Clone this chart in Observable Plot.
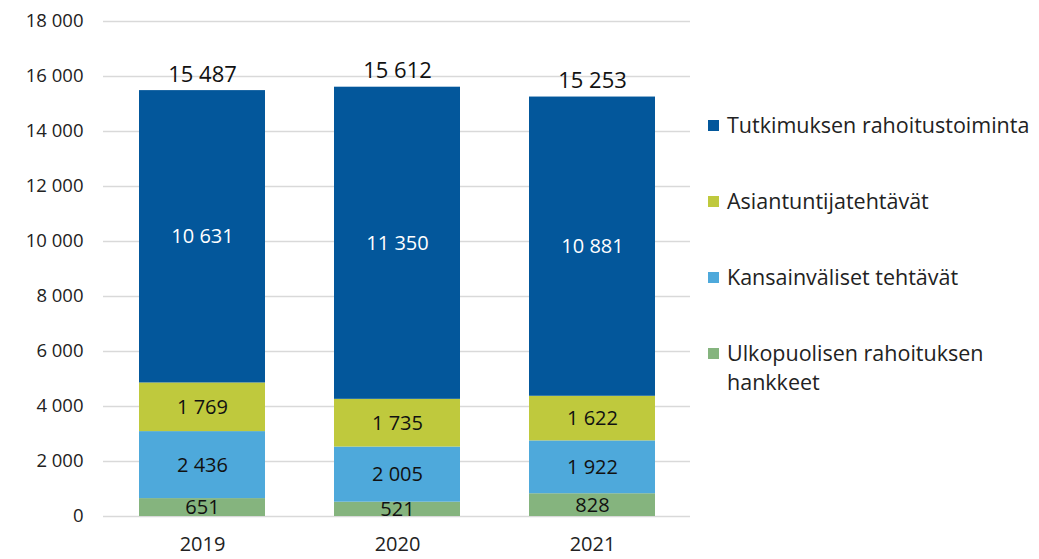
<!DOCTYPE html>
<html><head><meta charset="utf-8">
<script src="https://cdn.jsdelivr.net/npm/d3@7"></script>
<script src="https://cdn.jsdelivr.net/npm/@observablehq/plot@0.6"></script>
<style>
html,body{margin:0;padding:0;background:#fff;}
#wrap{position:relative;width:1039px;height:559px;font-family:"Open Sans",sans-serif;overflow:hidden;}
#legend{position:absolute;left:708px;top:0;width:331px;}
.item{position:absolute;left:0;display:flex;align-items:flex-start;font-size:21.5px;color:#222;line-height:29px;width:340px;}
.sw{width:11px;height:11px;margin-top:10px;margin-right:8px;flex:none;}
</style></head>
<body><div id="wrap"><div id="legend"></div></div>
<script>
const years = ["2019", "2020", "2021"];
const series = ["Ulkopuolisen rahoituksen hankkeet", "Kansainväliset tehtävät", "Asiantuntijatehtävät", "Tutkimuksen rahoitustoiminta"];
const colors = ["#85b47e", "#4ea9db", "#bfc93d", "#03579b"];
const ulkopuolisen = [651, 521, 828];
const kansainvaliset = [2436, 2005, 1922];
const asiantuntija = [1769, 1735, 1622];
const tutkimuksen = [10631, 11350, 10881];
const totalLabels = [15487, 15612, 15253];
const yTicks = [0, 2000, 4000, 6000, 8000, 10000, 12000, 14000, 16000, 18000];

const seriesValues = [ulkopuolisen, kansainvaliset, asiantuntija, tutkimuksen];
const data = [];
series.forEach((s, si) => years.forEach((y, yi) => data.push({year: y, series: s, value: seriesValues[si][yi]})));
const totals = years.map((y, yi) => ({year: y, total: totalLabels[yi]}));

const fmt = d3.formatLocale({decimal: ",", thousands: "\u00a0", grouping: [3], currency: ["", ""]}).format(",d");

const chart = Plot.plot({
  width: 1039, height: 559,
  marginLeft: 103, marginRight: 349, marginTop: 21, marginBottom: 43,
  style: {fontFamily: "'Open Sans', sans-serif", fontSize: "18px", color: "#222", background: "transparent"},
  x: {domain: years, paddingInner: 0.356, paddingOuter: 0.178, label: null},
  y: {domain: [0, 18000], label: null},
  color: {domain: series, range: colors},
  marks: [
    Plot.ruleY(yTicks, {stroke: "#d9d9d9", strokeWidth: 1.5}),
    Plot.axisY(yTicks, {tickSize: 0, tickPadding: 20, tickFormat: fmt, fontSize: 18.5, label: null}),
    Plot.axisX({tickSize: 0, tickPadding: 20, fontSize: 20, label: null}),
    Plot.barY(data, Plot.stackY({x: "year", y: "value", fill: "series", order: series})),
    Plot.text(data.filter(d => d.series !== series[3]), Plot.stackY({x: "year", y: "value", z: "series", order: series.slice(0, 3), text: d => fmt(d.value), fill: "#111", fontSize: 20})),
    Plot.text(data, Plot.stackY({x: "year", y: "value", z: "series", order: series, text: d => d.series === series[3] ? fmt(d.value) : "", fill: "#fff", fontSize: 20})),
    Plot.text(totals, {x: "year", y: "total", text: d => fmt(d.total), lineAnchor: "bottom", dy: -9, fontSize: 22, fill: "#111"})
  ]
});
document.getElementById("wrap").prepend(chart);

const legendTops = [110, 186, 262, 338];
const legend = document.getElementById("legend");
[3, 2, 1, 0].forEach((si, i) => {
  const it = document.createElement("div");
  it.className = "item";
  it.style.top = legendTops[i] + "px";
  const sw = document.createElement("div");
  sw.className = "sw"; sw.style.background = colors[si];
  const tx = document.createElement("div");
  tx.textContent = series[si];
  tx.style.width = "315px";
  it.append(sw, tx);
  legend.append(it);
});
</script></body></html>
